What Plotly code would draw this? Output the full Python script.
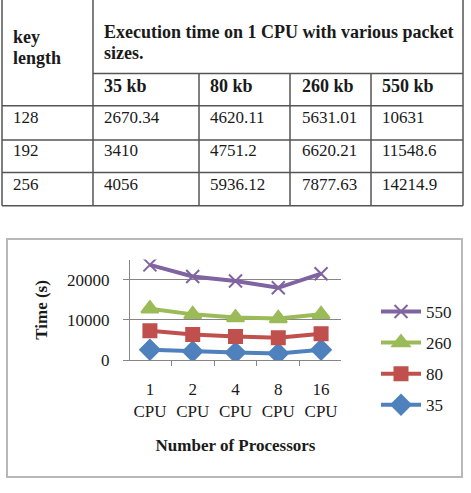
import plotly.graph_objects as go

# ---------------- data ----------------
key_lengths = ["128", "192", "256"]
packet_sizes = ["35 kb", "80 kb", "260 kb", "550 kb"]
exec_128 = [2670.34, 4620.11, 5631.01, 10631]
exec_192 = [3410, 4751.2, 6620.21, 11548.6]
exec_256 = [4056, 5936.12, 7877.63, 14214.9]

cpu_counts = ["1", "2", "4", "8", "16"]
series_names = ["35", "80", "260", "550"]
time_35 = [2600, 2200, 1900, 1700, 2600]
time_80 = [7300, 6400, 5900, 5600, 6600]
time_260 = [12800, 11400, 10600, 10400, 11400]
time_550 = [23700, 20800, 19700, 18000, 21500]

W, H = 471, 493
FONT = "Liberation Serif, Times New Roman, serif"


def px(x):
    return x / W


def py(y):
    return 1 - y / H


fig = go.Figure()

# ---------------- chart ----------------
cats = [f"{c}<br>CPU" for c in cpu_counts]
styles = [
    ("35", time_35, "#4F81BD", "diamond", 15, 4),
    ("80", time_80, "#C0504D", "square", 13, 3),
    ("260", time_260, "#9BBB59", "triangle-up", 15, 2),
    ("550", time_550, "#8064A2", "x-thin", 13, 1),
]
for name, vals, col, sym, size, rank in styles:
    fig.add_trace(go.Scatter(
        x=cats, y=vals, name=name, mode="lines+markers",
        line=dict(color=col, width=4),
        marker=dict(symbol=sym, size=size, color=col,
                    line=dict(color=col, width=2)),
        legendgroup=name, legendrank=rank,
    ))

x0, x1 = 130, 341
y_bottom, y_top = 367.7, 265
fig.update_layout(
    width=W, height=H, margin=dict(l=0, r=0, t=0, b=0),
    paper_bgcolor="white", plot_bgcolor="white",
    font=dict(family=FONT, size=17, color="#1a1a1a"),
    showlegend=True,
    legend=dict(x=px(376), y=py(300), xanchor="left", yanchor="top",
                traceorder="grouped", tracegroupgap=6, itemwidth=40,
                font=dict(size=17), bgcolor="rgba(0,0,0,0)"),
    xaxis=dict(domain=[px(x0), px(x1)], type="category",
               tickson="boundaries", ticks="outside", ticklen=5,
               tickcolor="#868686", showline=True, linecolor="#868686",
               showgrid=False, tickfont=dict(size=17), ticklabelstandoff=13,
               title=dict(text="<b>Number of Processors</b>",
                          font=dict(size=17), standoff=19)),
    yaxis=dict(domain=[py(y_bottom), py(y_top)], range=[0, 25000],
               dtick=10000, tickformat="d", ticks="outside", ticklen=6,
               tickcolor="#868686", showline=True, linecolor="#868686",
               showgrid=True, gridcolor="#868686", gridwidth=1,
               zeroline=False, tickfont=dict(size=17), ticklabelstandoff=10,
               title=dict(text="<b>Time (s)</b>", font=dict(size=17),
                          standoff=15)),
)

shapes = []
# chart border
shapes.append(dict(type="rect", xref="paper", yref="paper",
                   x0=px(7), x1=px(462), y0=py(487), y1=py(244),
                   line=dict(color="#b8b8b8", width=2)))

# ---------------- table ----------------
col_edges = [2, 93, 199, 290, 371, 463]
row_edges = [-2, 75, 108, 143, 176, 210]
lc = dict(color="#555555", width=1.5)
for i, xe in enumerate(col_edges):
    ytop = row_edges[0] if i in (0, 1, 5) else row_edges[1]
    shapes.append(dict(type="line", xref="paper", yref="paper",
                       x0=px(xe), x1=px(xe), y0=py(ytop), y1=py(row_edges[-1]),
                       line=lc))
for j, ye in enumerate(row_edges[1:], start=1):
    xs = col_edges[1] if j == 1 else col_edges[0]
    shapes.append(dict(type="line", xref="paper", yref="paper",
                       x0=px(xs), x1=px(col_edges[-1]), y0=py(ye), y1=py(ye),
                       line=lc))
fig.update_layout(shapes=shapes)

anns = []


def txt(x, y, s, bold=False, size=17):
    anns.append(dict(xref="paper", yref="paper", x=px(x), y=py(y),
                     xanchor="left", yanchor="middle", showarrow=False,
                     text=f"<b>{s}</b>" if bold else s,
                     font=dict(family=FONT, size=size, color="#1a1a1a")))


txt(11, 38, "key", True, 18)
txt(11, 59, "length", True, 18)
txt(102, 33, "Execution time on 1 CPU with various packet", True, 18)
txt(102, 54, "sizes.", True, 18)
cell_x = [102, 208, 300, 380]
for k, p in enumerate(packet_sizes):
    txt(cell_x[k], 88, p, True, 18)
row_y = [120, 154, 188]
for r, (kl, vals) in enumerate(zip(key_lengths, [exec_128, exec_192, exec_256])):
    txt(11, row_y[r], kl)
    for k, v in enumerate(vals):
        txt(cell_x[k], row_y[r], f"{v:g}")
fig.update_layout(annotations=anns)

fig.write_html("out.html")
